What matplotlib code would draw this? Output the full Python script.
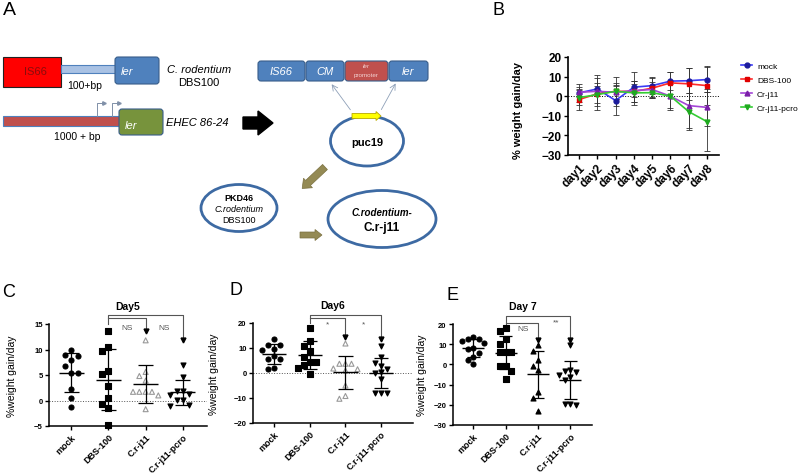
import numpy as np
import matplotlib.pyplot as plt
from matplotlib.patches import FancyBboxPatch, Rectangle, Ellipse, Polygon, FancyArrow
from matplotlib.lines import Line2D

plt.rcParams['font.family'] = ['Liberation Sans', 'DejaVu Sans']

# ---------------- data ----------------
# panel B: mean +/- SD weight gain per day
days = ['day1', 'day2', 'day3', 'day4', 'day5', 'day6', 'day7', 'day8']
groups_b = ['mock', 'DBS-100', 'Cr-j11', 'Cr-j11-pcro']
mock_mean = [1.7, 3.7, -2.2, 4.6, 5.4, 7.7, 7.9, 8.5]
mock_sd = [4.5, 7.2, 7.5, 7.5, 4.5, 4.5, 6.5, 6.5]
dbs_mean = [-1.7, 1.2, 2.5, 2.4, 4.1, 6.8, 6.3, 5.4]
dbs_sd = [5.3, 8.2, 4.0, 5.5, 5.0, 5.5, 8.0, 9.8]
crj_mean = [2.0, 2.5, 2.0, 2.9, 3.4, 0.0, -4.8, -5.7]
crj_sd = [2.5, 2.5, 3.5, 3.5, 3.8, 6.0, 11.5, 9.5]
pcro_mean = [-0.7, 0.8, 2.5, 1.7, 1.8, 0.0, -7.9, -13.0]
pcro_sd = [4.0, 6.0, 7.5, 6.0, 2.7, 7.0, 9.3, 15.0]

# panels C-E: individual mice
groups_cde = ['mock', 'DBS-100', 'C.r-j11', 'C.r-j11-pcro']
day5_mock = [9.9, 9.0, 8.8, 7.9, 6.7, 5.4, 5.4, 2.3, 0.5, -1.3]
day5_dbs = [13.6, 10.4, 9.8, 5.7, 5.2, 2.9, 0.4, -0.6, -1.4, -4.9]
day5_crj = [11.8, 5.6, 4.8, 3.9, 1.7, 1.7, 1.7, 1.7, 1.0, -1.7]
day5_pcro = [7.0, 4.6, 1.8, 1.8, 1.2, 1.0, 0.1, 0.1, -0.9, -1.0]

day6_mock = [13.7, 11.3, 11.3, 9.7, 9.1, 7.0, 5.7, 5.7, 2.0, 1.7]
day6_dbs = [18.1, 12.8, 10.8, 8.7, 6.4, 4.4, 4.4, 3.1, 2.0, -0.3]
day6_crj = [11.8, 3.7, 3.7, 3.7, 1.8, 1.5, 1.0, -5.0, -9.2, -10.3]
day6_pcro = [10.8, 6.4, 4.0, 3.0, 1.5, 0.4, 0.0, -2.3, -7.9, -7.9, -8.0]

day7_mock = [13.5, 12.7, 12.4, 11.5, 10.4, 8.3, 7.5, 5.5, 3.9, 2.3, 0.0]
day7_dbs = [18.0, 16.4, 12.4, 9.9, 6.2, 6.2, 6.2, -1.0, -1.0, -3.4, -7.2]
day7_crj = [9.6, 6.6, 2.1, -1.0, -2.6, -13.7, -16.6, -23.1]
day7_pcro = [9.5, -2.8, -3.4, -3.9, -5.2, -6.3, -7.7, -19.4, -19.9, -19.4]

sig_day5 = ['NS', 'NS']
sig_day6 = ['*', '*']
sig_day7 = ['NS', '**']

W, H = 800, 477
fig = plt.figure(figsize=(8, 4.77), dpi=100)


def px_axes(x0, y0, x1, y1):
    return fig.add_axes([x0 / W, 1 - y1 / H, (x1 - x0) / W, (y1 - y0) / H])


# ---------------- panel A (schematic) ----------------
axa = fig.add_axes([0, 0, 1, 1])
axa.set_xlim(0, W)
axa.set_ylim(H, 0)
axa.axis('off')

blue = '#4f81bd'
dblue = '#385d8a'
red = '#c0504d'
olive = '#948a54'


def rbox(x, y, w, h, fc, ec=dblue, r=3, lw=0.8):
    axa.add_patch(FancyBboxPatch((x, y), w, h, boxstyle=f'round,pad=0,rounding_size={r}',
                                 fc=fc, ec=ec, lw=lw))


axa.text(3, 15, 'A', fontsize=14)
# DBS100 locus
axa.add_patch(Rectangle((3, 58), 58, 30, fc='#ff0000', ec='#222222', lw=0.8))
axa.text(35, 72, 'IS66', color='#8a0c0c', fontsize=8, ha='center', va='center')
axa.add_patch(Rectangle((61, 66), 56, 8, fc='#a9c2e4', ec=blue, lw=0.8))
rbox(115, 58, 44, 27, blue)
axa.text(121, 72, 'ler', color='white', fontsize=8, style='italic', va='center')
axa.text(85, 86, '100+bp', fontsize=7.5, ha='center', va='center')
axa.text(199, 70, 'C. rodentium', fontsize=8, style='italic', ha='center', va='center')
axa.text(199, 83, 'DBS100', fontsize=8, ha='center', va='center')
# EHEC locus
axa.add_patch(Rectangle((3, 117), 117, 10, fc=red, ec=blue, lw=0.8))
rbox(119, 110, 44, 26, '#77933c')
axa.text(125, 126, 'ler', color='white', fontsize=8, style='italic', va='center')
for px in (97, 112):
    axa.plot([px, px, 102 + (px - 97)], [117, 104, 104], color='#8090a8', lw=0.7)
    axa.plot(104 + (px - 97), 104, marker='>', ms=2.5, color='#8090a8')
axa.text(77, 137, '1000 + bp', fontsize=7.5, ha='center', va='center')
axa.text(166, 123, 'EHEC 86-24', fontsize=8, style='italic', va='center')
axa.add_patch(Polygon([(243, 118), (258, 118), (258, 112), (273, 124),
                       (258, 136), (258, 130), (243, 130)], fc='black', ec='black'))
# construct
rbox(258, 62, 47, 20, blue)
axa.text(281, 72, 'IS66', color='white', fontsize=8, style='italic', ha='center', va='center')
rbox(306, 62, 38, 20, blue)
axa.text(325, 72, 'CM', color='white', fontsize=8, style='italic', ha='center', va='center')
rbox(345, 62, 43, 20, red)
axa.text(366.5, 67, 'ler', color='#f2d0d0', fontsize=4.5, style='italic', ha='center', va='center')
axa.text(366.5, 76, 'promoter', color='#f2d0d0', fontsize=4.5, ha='center', va='center')
rbox(389, 62, 39, 20, blue)
axa.text(408, 72, 'ler', color='white', fontsize=8, style='italic', ha='center', va='center')
axa.annotate('', xy=(330, 83), xytext=(352, 113),
             arrowprops=dict(arrowstyle='->', color='#8ea0b8', lw=0.6))
axa.annotate('', xy=(397, 82), xytext=(380, 113),
             arrowprops=dict(arrowstyle='->', color='#8ea0b8', lw=0.6))
# puc19
axa.add_patch(Ellipse((367, 142), 73, 50, fill=False, ec='#3d6aa3', lw=2))
axa.add_patch(FancyArrow(352, 117, 24, 0, width=5, head_width=9, head_length=5,
                         length_includes_head=False, fc='#ffff00', ec='#b8a800', lw=0.6))
axa.text(367, 143, 'puc19', fontsize=8, weight='bold', ha='center', va='center')
axa.add_patch(FancyArrow(325, 168, -17, 16, width=7, head_width=13, head_length=8,
                         fc=olive, ec='#7a7040', lw=0.5))
# PKD46 ellipse
axa.add_patch(Ellipse((239, 209), 76, 47, fill=False, ec='#3d6aa3', lw=2))
axa.text(239, 199, 'PKD46', fontsize=6.5, weight='bold', ha='center', va='center')
axa.text(239, 210, 'C.rodentium', fontsize=6.5, style='italic', ha='center', va='center')
axa.text(239, 221, 'DBS100', fontsize=6.5, ha='center', va='center')
axa.add_patch(FancyArrow(300, 236, 15, 0, width=6, head_width=11, head_length=7,
                         fc=olive, ec='#7a7040', lw=0.5))
# final strain
axa.add_patch(Ellipse((382, 220), 108, 57, fill=False, ec='#3d6aa3', lw=2))
axa.text(382, 213, 'C.rodentium-', fontsize=7, weight='bold', style='italic',
         ha='center', va='center')
axa.text(382, 228, 'C.r-j11', fontsize=8.5, weight='bold', ha='center', va='center')

# ---------------- panel B ----------------
axb = px_axes(568, 58, 719, 156)
x = np.arange(1, len(days) + 1)
series_b = [(mock_mean, mock_sd, '#3b3bf5', '#1c1c9c', 'o'),
            (dbs_mean, dbs_sd, '#ff2a2a', '#e00000', 's'),
            (crj_mean, crj_sd, '#a346d6', '#7a1fa8', '^'),
            (pcro_mean, pcro_sd, '#33cc33', '#1faa1f', 'v')]
handles = []
for (m, sd, lc, mc, mk), name in zip(series_b, groups_b):
    axb.errorbar(x, m, yerr=sd, fmt='none', ecolor='#333333', elinewidth=0.6,
                 capsize=2, capthick=0.6, zorder=2)
    axb.plot(x, m, color=lc, lw=1.2, marker=mk, ms=3.5, mfc=mc, mec=mc, zorder=3)
    handles.append(Line2D([], [], color=lc, lw=1.2, marker=mk, ms=3.5, mfc=mc, mec=mc,
                          label=name))
axb.axhline(0, color='k', lw=0.7, ls=':', zorder=1)
axb.set_xlim(0.4, 8.65)
axb.set_ylim(-30, 20)
axb.set_yticks([-30, -20, -10, 0, 10, 20])
axb.set_xticks(x)
axb.set_xticklabels(days, rotation=45, ha='right', rotation_mode='anchor',
                    fontsize=8.5, weight='bold')
for lab in axb.get_yticklabels():
    lab.set_fontsize(8.5)
    lab.set_fontweight('bold')
axb.set_ylabel('% weight gain/day', fontsize=8, weight='bold')
axb.yaxis.set_label_coords(-0.3, 0.46)
axb.spines[['top', 'right']].set_visible(False)
axb.spines[['left', 'bottom']].set_linewidth(1.2)
axb.tick_params(length=3, width=1, pad=1.5)
axb.legend(handles=handles, loc='upper left', bbox_to_anchor=(737 / W, 1 - 59 / H),
           bbox_transform=fig.transFigure, frameon=False, fontsize=6,
           handlelength=1.3, handletextpad=0.6, labelspacing=0.75, borderpad=0)
fig.text(493 / W, 1 - 15 / H, 'B', fontsize=13)


# ---------------- panels C-E ----------------
def swarm(vals, w, yth):
    order = np.argsort(vals)[::-1]
    offs = np.zeros(len(vals))
    placed = []
    for i in order:
        ox = 0.0
        for k in [0, -1, 1, -2, 2, -3, 3]:
            ox = k * w
            if all(abs(ox - px) >= w * 0.95 or abs(vals[i] - py) >= yth for px, py in placed):
                break
        offs[i] = ox
        placed.append((ox, vals[i]))
    return offs


def dot_panel(ax, values, styles, ylim, lines, tips):
    span = ylim[1] - ylim[0]
    for i, (vals, (mk, fc, ec)) in enumerate(zip(values, styles)):
        vals = np.asarray(vals, dtype=float)
        offs = swarm(vals, 0.17, span * 0.065)
        ax.scatter(i + offs, vals, marker=mk, s=13, facecolors=fc, edgecolors=ec,
                   linewidths=0.8, zorder=3, clip_on=False)
        m, sd = vals.mean(), vals.std(ddof=1)
        ax.hlines(m, i - 0.34, i + 0.34, color='k', lw=1, zorder=4)
        ax.vlines(i, m - sd, m + sd, color='k', lw=0.9, zorder=4)
        ax.hlines([m - sd, m + sd], i - 0.2, i + 0.2, color='k', lw=0.9, zorder=4)
    # comparison brackets
    bc = '#555555'
    top, low = lines
    ax.plot([1, 1, 3, 3], [ylim[1], top, top, tips[1]], color=bc, lw=0.8, clip_on=False)
    ax.plot([1, 2, 2], [low, low, tips[0]], color=bc, lw=0.8, clip_on=False)
    ax.plot([2, 3], tips, ls='none', marker='v', ms=3.5, color='k', clip_on=False, zorder=5)


def style_axes(ax, xlim, ylim, yticks, title, ylab_x, zero_line):
    if zero_line:
        ax.axhline(0, color='#555555', lw=0.7, ls=':', zorder=1)
    ax.set_xlim(*xlim)
    ax.set_ylim(*ylim)
    ax.set_yticks(yticks)
    ax.set_xticks(range(len(groups_cde)))
    ax.set_xticklabels(groups_cde, rotation=45, ha='right', rotation_mode='anchor',
                       fontsize=6.5, weight='bold')
    for lab in ax.get_yticklabels():
        lab.set_fontsize(5.5)
        lab.set_fontweight('bold')
    ax.set_ylabel('%weight gain/day', fontsize=7.5)
    ax.yaxis.set_label_coords(ylab_x, 0.5)
    ax.set_title(title, fontsize=7.5, weight='bold', pad=11)
    ax.spines[['top', 'right']].set_visible(False)
    ax.spines[['left', 'bottom']].set_linewidth(1.1)
    ax.tick_params(length=3, width=1, pad=1.5)


open_tri = ('^', 'none', '#999999')
sty_cd = [('o', 'k', 'k'), ('s', 'k', 'k'), open_tri, ('v', 'k', 'k')]
sty_e = [('o', 'k', 'k'), ('s', 'k', 'k'), ('^', 'k', 'k'), ('v', 'k', 'k')]

# C
axc = px_axes(49, 325, 207, 427)
dot_panel(axc, [day5_mock, day5_dbs, day5_crj, day5_pcro], sty_cd, (-5, 15),
          (16.8, 16.2), (13.7, 11.9))
style_axes(axc, (-0.6, 3.65), (-5, 15), [-5, 0, 5, 10, 15], 'Day5', -0.2, True)
axc.text(1.5, 14.3, sig_day5[0], fontsize=6, color='#555555', ha='center', va='center')
axc.text(2.5, 14.3, sig_day5[1], fontsize=6, color='#555555', ha='center', va='center')
fig.text(2 / W, 1 - 297 / H, 'C', fontsize=13)

# D
axd = px_axes(253, 324, 413, 424)
dot_panel(axd, [day6_mock, day6_dbs, day6_crj, day6_pcro], sty_cd, (-20, 20),
          (23.3, 22.1), (14.4, 13.7))
style_axes(axd, (-0.6, 3.9), (-20, 20), [-20, -10, 0, 10, 20], 'Day6', -0.21, True)
axd.text(1.5, 19.5, sig_day6[0], fontsize=6, color='#555555', ha='center', va='center')
axd.text(2.5, 19.5, sig_day6[1], fontsize=6, color='#555555', ha='center', va='center')
fig.text(230 / W, 1 - 295 / H, 'D', fontsize=13)

# E
axe = px_axes(453, 325, 592, 426)
dot_panel(axe, [day7_mock, day7_dbs, day7_crj, day7_pcro], sty_e, (-30, 20),
          (24.0, 20.6), (12.3, 12.0))
style_axes(axe, (-0.63, 3.67), (-30, 20), [-30, -20, -10, 0, 10, 20], 'Day 7', -0.19, False)
axe.text(1.55, 17.8, sig_day7[0], fontsize=6, color='#555555', ha='center', va='center')
axe.text(2.55, 21.0, sig_day7[1], fontsize=6, color='#555555', ha='center', va='center')
fig.text(447 / W, 1 - 300 / H, 'E', fontsize=13)

fig.savefig('out.png', dpi=100)
